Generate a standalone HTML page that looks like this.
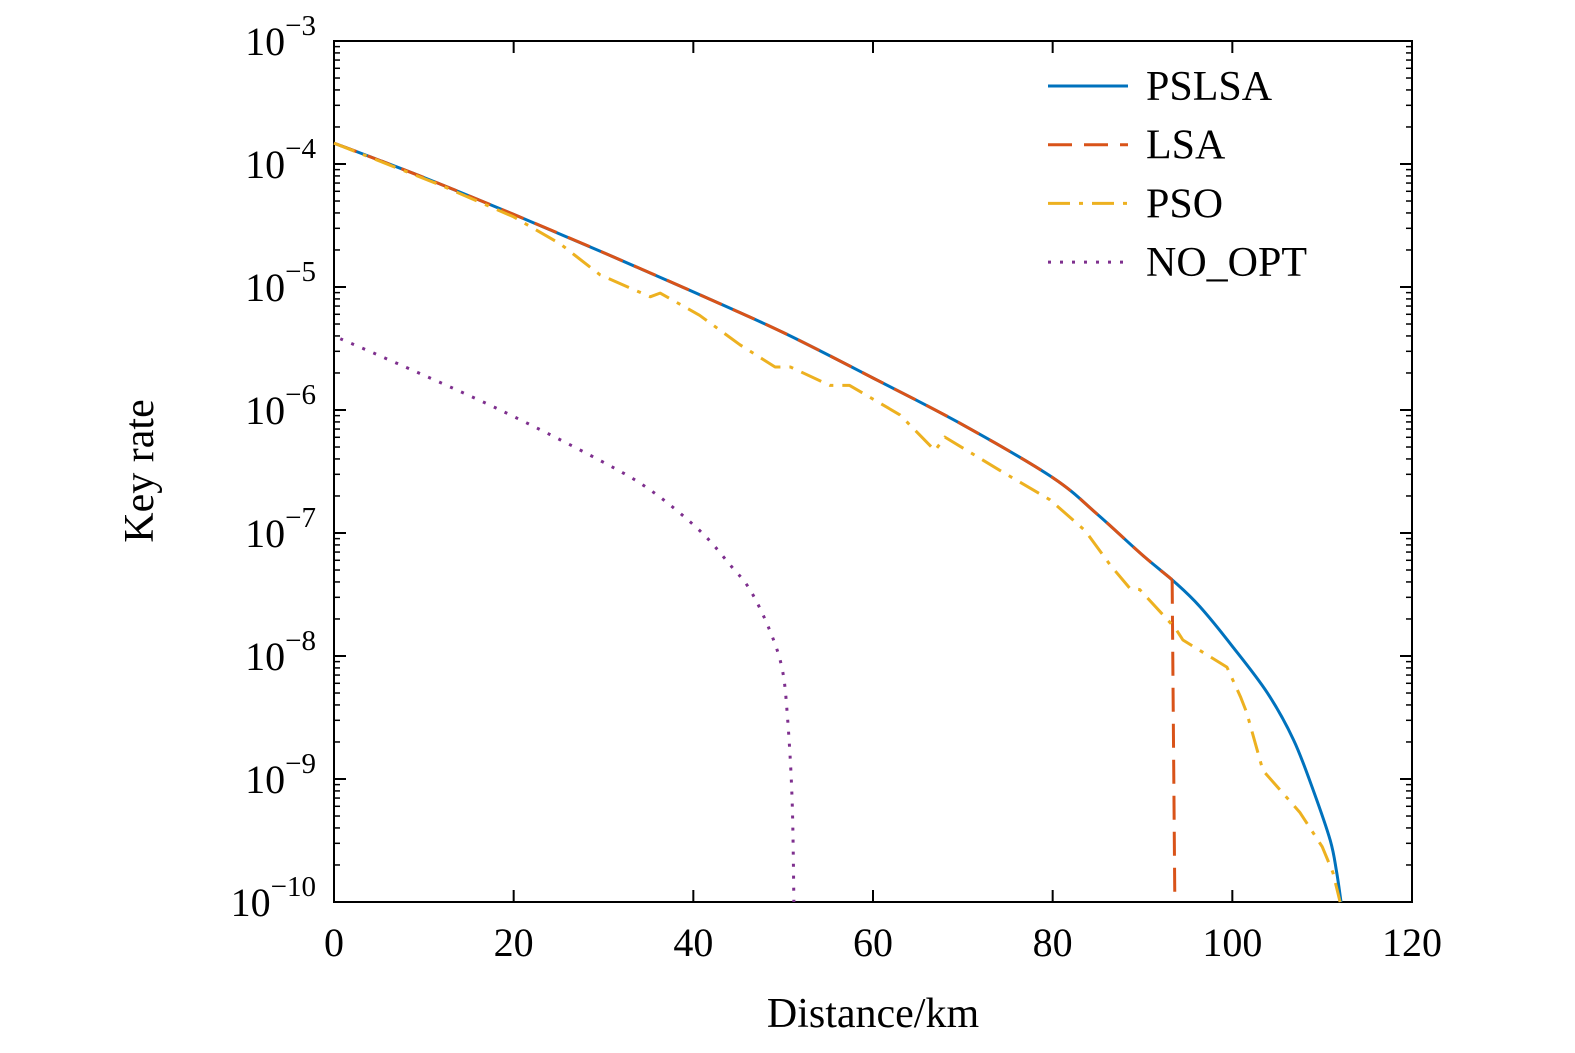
<!DOCTYPE html>
<html><head><meta charset="utf-8"><style>
html,body{margin:0;padding:0;background:#fff;}
svg{display:block;font-family:"Liberation Serif",serif;}
</style></head><body>
<svg id="chart" width="1575" height="1053" viewBox="0 0 1575 1053"></svg>
<script>
const xTicks=[0,20,40,60,80,100,120];
const yExps=[-3,-4,-5,-6,-7,-8,-9,-10];
const pslsaKm=[0,10,20,30,40,50,60,70,80,85,90,93.6,96.4,100.1,103.9,106.8,109,110.9,111.6,112.1];
const pslsaLog=[-3.83,-4.11,-4.41,-4.72,-5.04,-5.37,-5.74,-6.12,-6.55,-6.85,-7.18,-7.40,-7.60,-7.93,-8.30,-8.68,-9.09,-9.50,-9.75,-10];
const lsaKm=[0,10,20,30,40,50,60,70,80,85,90,93.3,93.6];
const lsaLog=[-3.83,-4.11,-4.41,-4.72,-5.04,-5.37,-5.74,-6.12,-6.55,-6.85,-7.18,-7.38,-10];
const psoKm=[0,11.8,20,25.2,29.6,35.2,36.3,40.7,45.2,49.1,50.8,55.2,57.4,63,66.9,68,74.1,79.7,83.6,86.4,88.6,89.7,93.1,93.8,94.5,99.4,100.9,101.6,103.4,107.5,110,111.2,112];
const psoLog=[-3.83,-4.17,-4.43,-4.65,-4.9,-5.08,-5.05,-5.23,-5.47,-5.65,-5.65,-5.8,-5.8,-6.04,-6.33,-6.22,-6.49,-6.73,-6.98,-7.26,-7.45,-7.46,-7.73,-7.79,-7.87,-8.09,-8.33,-8.46,-8.93,-9.27,-9.55,-9.76,-10];
const noKm=[0.7,7.3,18.5,29.6,35.2,40.7,44.1,46.3,48.5,49.9,50.5,51,51.2];
const noLog=[-5.42,-5.63,-6,-6.41,-6.65,-6.98,-7.26,-7.46,-7.79,-8.11,-8.52,-9.17,-10];

const L=334,R=1412,T=41,B=902;
const X=v=>L+(v/120)*(R-L);
const Y=e=>T+(-3-e)/7*(B-T);
const svg=document.getElementById('chart');
const NS='http://www.w3.org/2000/svg';
function mk(tag,attrs,parent){const e=document.createElementNS(NS,tag);for(const k in attrs)e.setAttribute(k,attrs[k]);(parent||svg).appendChild(e);return e;}

const frame=mk('rect',{x:L,y:T,width:R-L,height:B-T,fill:'none',stroke:'#000','stroke-width':2});



xTicks.forEach(v=>{
  const x=X(v);
  const t1=mk('line',{x1:x,x2:x,y1:B,y2:B-12,stroke:'#000','stroke-width':2});
  
  
  mk('line',{x1:x,x2:x,y1:T,y2:T+12,stroke:'#000','stroke-width':2});
  const t=mk('text',{x:x,y:956,'font-size':40,'text-anchor':'middle'});
  t.textContent=v;
  
  
});
yExps.forEach(e=>{
  const y=Y(e);
  const t1=mk('line',{x1:L,x2:L+12,y1:y,y2:y,stroke:'#000','stroke-width':2});
  
  
  mk('line',{x1:R,x2:R-12,y1:y,y2:y,stroke:'#000','stroke-width':2});
  const t=mk('text',{x:316,y:y+14,'font-size':40,'text-anchor':'end'});
  t.textContent='10';
  const s=mk('tspan',{dy:-20,'font-size':29},t);
  s.textContent='\u2212'+(-e);
  
  
  if(e>-10){
    for(let m=2;m<=9;m++){
      const yy=Y(e-1+Math.log10(m));
      mk('line',{x1:L,x2:L+6,y1:yy,y2:yy,stroke:'#000','stroke-width':1.5});
      mk('line',{x1:R,x2:R-6,y1:yy,y2:yy,stroke:'#000','stroke-width':1.5});
    }
  }
});
const xl=mk('text',{x:873,y:1027,'font-size':42,'text-anchor':'middle'});
xl.textContent='Distance/km';


const yl=mk('text',{x:0,y:0,'font-size':42,'text-anchor':'middle',transform:'translate(153,471) rotate(-90)'});
yl.textContent='Key rate';



function series(km,lg,color,dash,name,smooth){
  const P=km.map((k,i)=>[X(k),Y(lg[i])]);
  let d='M'+P[0][0].toFixed(1)+','+P[0][1].toFixed(1);
  for(let i=1;i<P.length;i++){
    if(smooth){
      const p0=P[Math.max(0,i-2)],p1=P[i-1],p2=P[i],p3=P[Math.min(P.length-1,i+1)];
      const c1=[p1[0]+(p2[0]-p0[0])/6,p1[1]+(p2[1]-p0[1])/6];
      const c2=[p2[0]-(p3[0]-p1[0])/6,p2[1]-(p3[1]-p1[1])/6];
      d+=' C'+c1[0].toFixed(1)+','+c1[1].toFixed(1)+' '+c2[0].toFixed(1)+','+c2[1].toFixed(1)+' '+p2[0].toFixed(1)+','+p2[1].toFixed(1);
    } else d+=' L'+P[i][0].toFixed(1)+','+P[i][1].toFixed(1);
  }
  const p=mk('path',{d:d,fill:'none',stroke:color,'stroke-width':3,'stroke-dasharray':dash,'stroke-linejoin':'round'});
  
  
}
series(pslsaKm,pslsaLog,'#0072bd','none','pslsa-line',true);
series(lsaKm.slice(0,-1),lsaLog.slice(0,-1),'#d95319','24,12','lsa-line',true);
const drop=mk('line',{x1:X(lsaKm[lsaKm.length-2]),y1:Y(lsaLog[lsaLog.length-2]),x2:X(lsaKm[lsaKm.length-1]),y2:Y(lsaLog[lsaLog.length-1]),stroke:'#d95319','stroke-width':3,'stroke-dasharray':'24,12'});


series(psoKm,psoLog,'#edb120','22,9,4,9','pso-line',false);
series(noKm,noLog,'#7e2f8e','3,9','no-opt-line',true);

const leg=[['PSLSA','#0072bd','none'],['LSA','#d95319','24,12'],['PSO','#edb120','22,9,4,9'],['NO_OPT','#7e2f8e','3,9']];
leg.forEach((l,i)=>{
  const y=86+i*58.7;
  const g=mk('g',{});
  
  
  mk('line',{x1:1048,x2:1128,y1:y,y2:y,stroke:l[1],'stroke-width':3,'stroke-dasharray':l[2]},g);
  const t=mk('text',{x:1146,y:y+14,'font-size':42},g);
  t.textContent=l[0];
});
</script>
</body></html>
